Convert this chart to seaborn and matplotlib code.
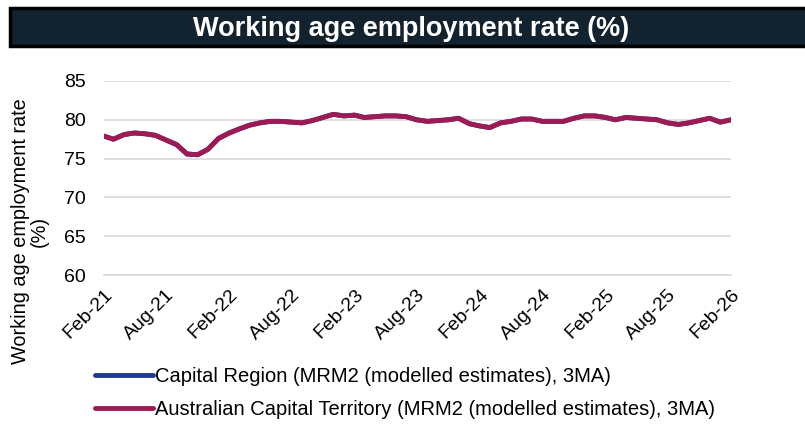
import pandas as pd
import seaborn as sns
import matplotlib.pyplot as plt
from matplotlib.patches import Rectangle

months = pd.date_range('2021-02-01', '2026-02-01', freq='MS')

act = [77.9, 77.5, 78.1, 78.3, 78.2, 78.0, 77.4, 76.8, 75.6, 75.5,
       76.2, 77.6, 78.3, 78.8, 79.3, 79.6, 79.8, 79.8, 79.7, 79.6,
       79.9, 80.3, 80.7, 80.5, 80.6, 80.3, 80.4, 80.5, 80.5, 80.4,
       80.0, 79.8, 79.9, 80.0, 80.2, 79.5, 79.2, 79.0, 79.6, 79.8,
       80.1, 80.1, 79.8, 79.8, 79.8, 80.2, 80.5, 80.5, 80.3, 80.0,
       80.3, 80.2, 80.1, 80.0, 79.6, 79.4, 79.6, 79.9, 80.2, 79.7,
       80.0]
capital = list(act)

series_names = ['Capital Region (MRM2 (modelled estimates), 3MA)',
                'Australian Capital Territory (MRM2 (modelled estimates), 3MA)']
colors = ['#1f3a93', '#9e1a55']

df = pd.concat([
    pd.DataFrame({'month': months, 'rate': capital, 'series': series_names[0]}),
    pd.DataFrame({'month': months, 'rate': act, 'series': series_names[1]}),
])

sns.set_style('white')
plt.rcParams['font.family'] = ['Liberation Sans', 'DejaVu Sans']
plt.rcParams['text.color'] = 'black'
plt.rcParams['axes.labelcolor'] = 'black'

fig = plt.figure(figsize=(8.05, 4.26), dpi=100)
ax = fig.add_axes([0.129, 0.354, 0.779, 0.456])

sns.lineplot(data=df, x='month', y='rate', hue='series', palette=colors,
             linewidth=3.5, ax=ax, legend=False)

ax.set_ylim(60, 85)
ax.set_yticks([60, 65, 70, 75, 80, 85])
ax.set_xlim(months[0], months[-1])
xt = months[::6]
ax.set_xticks(xt)
ax.set_xticklabels([d.strftime('%b-%y') for d in xt], rotation=45,
                   ha='right', rotation_mode='anchor')
ax.tick_params(axis='x', length=5, color='#d9d9d9', width=1.2, pad=3,
               labelsize=14, labelcolor='black')
ax.tick_params(axis='y', length=0, labelsize=14, pad=13, labelcolor='black')
ax.grid(axis='y', color='#d9d9d9', linewidth=1.2)
for s in ['top', 'right', 'left']:
    ax.spines[s].set_visible(False)
ax.spines['bottom'].set_color('#d9d9d9')
ax.spines['bottom'].set_linewidth(1.2)
ax.set_xlabel('')
ax.set_ylabel('Working age employment rate\n(%)', fontsize=14.3, linespacing=0.95)
ax.yaxis.set_label_coords(-0.088, 0.227)

# title bar
fig.patches.append(Rectangle((0.012, 0.893), 1.0, 0.089, transform=fig.transFigure,
                             facecolor='#13222f', edgecolor='black', linewidth=2.5))
fig.text(0.511, 0.933, 'Working age employment rate (%)', color='white',
         fontsize=19.5, fontweight='bold', ha='center', va='center')

# legend
handles = [plt.Line2D([], [], color=c, linewidth=3.5) for c in colors]
fig.legend(handles, series_names, loc='center left', bbox_to_anchor=(0.118, 0.0775),
           frameon=False, fontsize=14.5, handlelength=2.9, handletextpad=0.1,
           labelspacing=0.68, borderpad=0, borderaxespad=0)

fig.savefig('out.png', dpi=100)
